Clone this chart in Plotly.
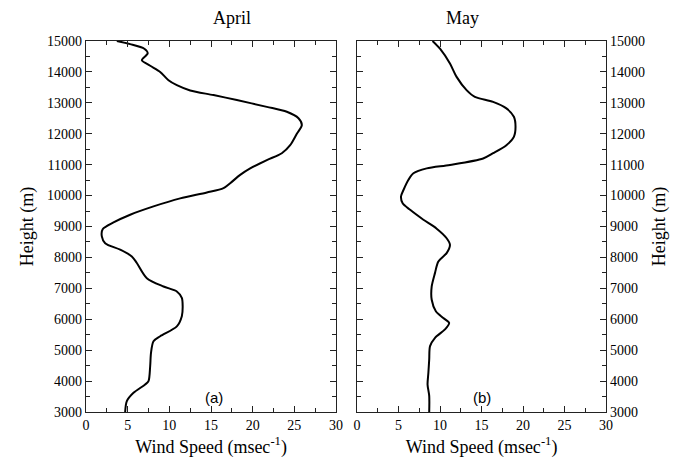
import plotly.graph_objects as go

# April wind-speed profile (m/s) against height (m)
april_height = [15000, 14900, 14750, 14600, 14380, 14200, 14000, 13730, 13570, 13400,
                13250, 13090, 12870, 12710, 12500, 12280, 12000, 11630, 11370, 11150,
                10880, 10670, 10400, 10240, 10100, 9910, 9650, 9380, 9130, 8910,
                8680, 8460, 8250, 8030, 7820, 7330, 7060, 6900, 6690, 6420,
                6100, 5770, 5450, 5290, 4910, 4480, 4000, 3890, 3620, 3350, 3000]
april_speed = [3.7, 5.3, 7.0, 7.4, 6.7, 7.7, 8.9, 9.9, 10.9, 12.5,
               15.3, 18.1, 21.7, 24.1, 25.5, 25.9, 25.3, 24.5, 23.5, 21.7,
               19.7, 18.5, 17.3, 16.5, 14.5, 11.3, 8.1, 5.3, 3.3, 2.0,
               1.9, 2.3, 4.1, 5.5, 6.1, 7.3, 9.3, 10.9, 11.5, 11.6,
               11.5, 10.9, 8.9, 8.1, 7.8, 7.7, 7.5, 7.1, 5.7, 4.9, 4.7]

# May wind-speed profile (m/s) against height (m)
may_height = [15000, 14750, 14270, 13840, 13410, 13190, 13030, 12820, 12550, 12230,
              11900, 11630, 11370, 11200, 10990, 10880, 10720, 10510, 10180, 9970,
              9750, 9540, 9220, 8930, 8620, 8410, 8140, 7870, 7500, 7060,
              6630, 6260, 6040, 5880, 5670, 5400, 5130, 4700, 4270, 3890, 3520, 3000]
may_speed = [9.1, 10.0, 11.2, 12.0, 13.2, 14.2, 16.4, 18.0, 18.9, 19.1,
             18.9, 18.0, 16.4, 15.2, 11.2, 8.4, 6.8, 6.2, 5.6, 5.3,
             5.5, 6.4, 8.0, 9.6, 10.8, 11.2, 10.8, 9.8, 9.4, 9.0,
             9.0, 9.5, 10.4, 11.1, 10.6, 9.4, 8.8, 8.7, 8.6, 8.5, 8.7, 8.7]

x_ticks = [0, 5, 10, 15, 20, 25, 30]
x_labels = [str(v) for v in x_ticks]
y_ticks = list(range(3000, 15001, 1000))
y_labels = [str(v) for v in y_ticks]

W, H = 693, 473
serif = '"Liberation Serif", "Times New Roman", serif'

fig = go.Figure()
fig.add_trace(go.Scatter(x=april_speed, y=april_height, mode="lines",
                         line=dict(color="black", width=2, shape="spline", smoothing=0.8),
                         xaxis="x", yaxis="y", showlegend=False))
fig.add_trace(go.Scatter(x=may_speed, y=may_height, mode="lines",
                         line=dict(color="black", width=2, shape="spline", smoothing=0.8),
                         xaxis="x2", yaxis="y2", showlegend=False))

ydom = [1 - 412 / H, 1 - 41 / H]
common_x = dict(range=[0, 30], tickvals=x_ticks, ticktext=x_labels, ticks="inside",
                ticklen=6, tickwidth=1, tickcolor="#222", showline=True, linecolor="#222",
                linewidth=1.2, mirror="allticks", showgrid=False, zeroline=False,
                automargin=False,
                minor=dict(ticks="inside", dtick=2.5, ticklen=4, tickcolor="#222", showgrid=False),
                tickfont=dict(family=serif, size=14, color="black"),
                title=dict(text="Wind Speed (msec<sup>-1</sup>)",
                           font=dict(family=serif, size=18, color="black"), standoff=8))
common_y = dict(range=[3000, 15000], tickvals=y_ticks, ticktext=y_labels, ticks="inside",
                ticklen=6, tickwidth=1, tickcolor="#222", showline=True, linecolor="#222",
                linewidth=1.2, mirror="allticks", showgrid=False, zeroline=False, domain=ydom,
                automargin=False,
                minor=dict(ticks="inside", dtick=500, ticklen=4, tickcolor="#222", showgrid=False),
                tickfont=dict(family=serif, size=14, color="black"),
                title=dict(text="Height (m)", font=dict(family=serif, size=18, color="black"),
                           standoff=8))

fig.update_layout(
    width=W, height=H, margin=dict(l=0, r=0, t=0, b=0),
    paper_bgcolor="white", plot_bgcolor="white",
    xaxis=dict(common_x, domain=[86 / W, 336 / W], anchor="y"),
    yaxis=dict(common_y, anchor="x", side="left"),
    xaxis2=dict(common_x, domain=[357 / W, 606 / W], anchor="y2"),
    yaxis2=dict(common_y, anchor="x2", side="right"),
    annotations=[
        dict(text="April", x=(86 + 336) / 2 / W, y=1 - 18 / H, xref="paper", yref="paper",
             yanchor="middle", showarrow=False, font=dict(family=serif, size=18, color="black")),
        dict(text="May", x=(357 + 606) / 2 / W, y=1 - 18 / H, xref="paper", yref="paper",
             yanchor="middle", showarrow=False, font=dict(family=serif, size=18, color="black")),
        dict(text="(a)", x=15.3, y=3470, xref="x", yref="y", showarrow=False,
             font=dict(family="Liberation Sans", size=15, color="black")),
        dict(text="(b)", x=15.0, y=3470, xref="x2", yref="y2", showarrow=False,
             font=dict(family="Liberation Sans", size=15, color="black")),
    ],
)

fig.write_html("out.html")
